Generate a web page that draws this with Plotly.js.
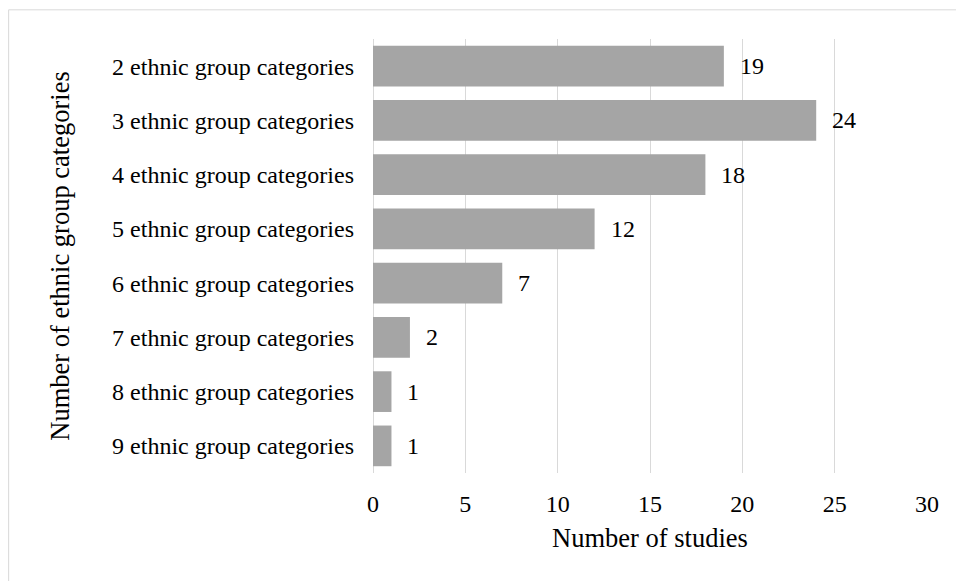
<!DOCTYPE html>
<html>
<head>
<meta charset="utf-8">
<script src="https://cdn.plot.ly/plotly-3.0.1.min.js"></script>
<style>
  html, body { margin: 0; padding: 0; background: #fff; }
  #chart { width: 956px; height: 581px; }
</style>
</head>
<body>
<div id="chart"></div>
<script>
const categories = [
  "2 ethnic group categories",
  "3 ethnic group categories",
  "4 ethnic group categories",
  "5 ethnic group categories",
  "6 ethnic group categories",
  "7 ethnic group categories",
  "8 ethnic group categories",
  "9 ethnic group categories"
];
const studies = [19, 24, 18, 12, 7, 2, 1, 1];
const xTicks = [0, 5, 10, 15, 20, 25, 30];
const xTitle = "Number of studies";
const yTitle = "Number of ethnic group categories";

const FONT = "Liberation Serif, Times New Roman, serif";
const W = 956, H = 581;
const margin = { l: 372.5, r: 29.3, t: 39.2, b: 107.5 };
const pw = W - margin.l - margin.r, ph = H - margin.t - margin.b;
const px = v => (v - margin.l) / pw;
const py = v => (H - margin.b - v) / ph;

const trace = {
  type: "bar",
  orientation: "h",
  y: categories,
  x: studies,
  marker: { color: "#A5A5A5", line: { width: 0 } },
  hoverinfo: "skip"
};

const annotations = categories.map((c, i) => ({
  x: studies[i], y: c, xref: "x", yref: "y",
  text: String(studies[i]),
  showarrow: false, xanchor: "left", yanchor: "middle",
  xshift: 14,
  font: { family: FONT, size: 24, color: "#000" }
}));

const borderColor = "#D9D9D9";
const shapes = [
  { type: "line", xref: "paper", yref: "paper", x0: px(8), x1: px(W + 5), y0: py(10), y1: py(10),
    line: { color: borderColor, width: 1 } },
  { type: "line", xref: "paper", yref: "paper", x0: px(8), x1: px(8), y0: py(10), y1: py(H + 5),
    line: { color: borderColor, width: 1 } }
];

const layout = {
  width: W, height: H,
  margin: margin,
  paper_bgcolor: "#fff",
  plot_bgcolor: "#fff",
  showlegend: false,
  bargap: 0.25,
  font: { family: FONT, size: 24, color: "#000" },
  xaxis: {
    range: [0, 30],
    tickvals: xTicks,
    ticktext: xTicks.map(String),
    showgrid: true, gridcolor: "#D9D9D9", gridwidth: 1,
    zeroline: true, zerolinecolor: "#D9D9D9", zerolinewidth: 1,
    showline: false, ticks: "",
    ticklabelstandoff: 14,
    tickfont: { family: FONT, size: 24, color: "#000" },
    title: { text: xTitle, font: { family: FONT, size: 26.5, color: "#000" }, standoff: 12 },
    fixedrange: true
  },
  yaxis: {
    type: "category",
    autorange: "reversed",
    showgrid: false, zeroline: false, showline: false, ticks: "",
    ticklabelstandoff: 18,
    tickfont: { family: FONT, size: 24, color: "#000" },
    title: { text: yTitle, font: { family: FONT, size: 26.5, color: "#000" }, standoff: 34 },
    fixedrange: true
  },
  annotations: annotations,
  shapes: shapes
};

Plotly.newPlot("chart", [trace], layout, { displayModeBar: false, staticPlot: true });
</script>
</body>
</html>
